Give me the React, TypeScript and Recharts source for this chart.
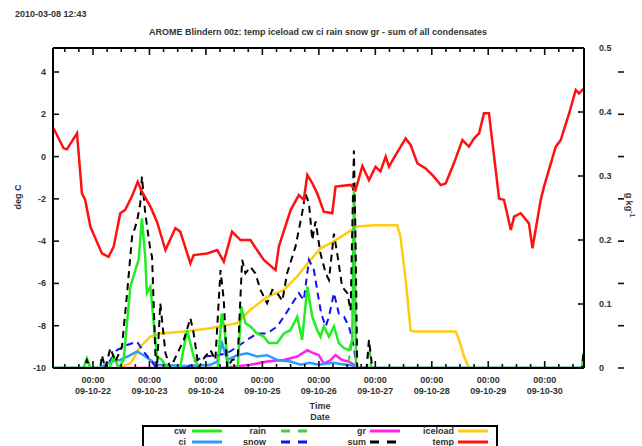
import React from 'react'
import { ComposedChart, Line, XAxis, YAxis, Legend, ReferenceLine } from 'recharts'

const STAMP = '2010-03-08 12:43'
const TITLE = 'AROME Blindern 00z: temp iceload cw ci rain snow gr - sum of all condensates'
const DAYS = ['09-10-22', '09-10-23', '09-10-24', '09-10-25', '09-10-26', '09-10-27', '09-10-28', '09-10-29', '09-10-30']
const HOUR_TICKS = [-12, -6, 0, 6, 12, 18, 24, 30, 36, 42, 48, 54, 60, 66, 72, 78, 84, 90, 96, 102, 108, 114, 120, 126, 132, 138, 144, 150, 156, 162, 168, 174, 180, 186, 192, 198, 204]
const TEMP_TICKS = [-10, -8, -6, -4, -2, 0, 2, 4]
const COND_TICKS = [0, 0.1, 0.2, 0.3, 0.4, 0.5]
const TEMP_TOP = 5.135

// [hour since 09-10-22 00:00, value]
const temp: [number, number][] = [[-16.8,1.34],[-12.5,0.39],[-11.1,0.34],[-6.8,1.1],[-4.7,-1.74],[-3.3,-2.05],[-1.1,-3.32],[3.8,-4.58],[6.6,-4.74],[8.8,-4.26],[11.6,-2.68],[13.7,-2.52],[16.6,-1.87],[19,-1.19],[20.8,-1.66],[24.4,-2.37],[27.2,-3.08],[30.8,-4.42],[35,-3.39],[37.1,-3.55],[41.4,-5.05],[42.8,-4.66],[48.5,-4.58],[52.8,-4.42],[55.6,-4.97],[59.1,-3.55],[62.7,-3.95],[66.9,-3.95],[72.6,-4.89],[77.6,-5.37],[79,-4.26],[84,-2.53],[87.5,-1.82],[89.6,-2.05],[91.1,-0.87],[93.2,-1.26],[95.3,-1.74],[98.1,-2.61],[101.7,-2.68],[103.1,-1.42],[109.5,-1.34],[111.6,-1.58],[114.5,-0.45],[117.3,-1.11],[120.1,-0.48],[122.2,-0.7],[124.4,0.0],[125.8,-0.48],[128.6,0.07],[132.9,0.86],[135,0.55],[137.9,-0.32],[141.4,-0.56],[144.9,-0.95],[147.8,-1.35],[149.9,-1.27],[153.4,-0.32],[157,0.78],[159.8,0.47],[162,0.86],[164.1,1.1],[166.2,2.05],[168.3,2.05],[170.5,0.0],[172.6,-1.98],[174.7,-2.05],[177.6,-3.47],[179,-2.84],[181.8,-2.68],[185.3,-3.16],[186.8,-4.34],[190.3,-2.05],[191.7,-1.42],[196.7,0.47],[198.8,0.78],[202.4,2.05],[205.2,3.15],[206.6,2.99],[208.7,3.23]]

const iceload: [number, number][] = [[10.2,0],[15.9,0.007],[20.1,0.033],[24.4,0.049],[28.6,0.054],[38.6,0.057],[49.9,0.062],[61.3,0.07],[66.9,0.091],[74,0.111],[81.1,0.122],[86.8,0.143],[92.5,0.169],[96.7,0.187],[101,0.195],[106.7,0.208],[112.3,0.221],[119.4,0.223],[129.3,0.223],[130.7,0.205],[132.9,0.1375],[135,0.059],[136.4,0.057],[154.2,0.057],[155.6,0.044],[157.7,0.018],[159.8,0]]

const cw: [number, number][] = [[-17,0],[-4,0],[-2.6,0.015],[-1.1,0],[7,0],[8.8,0.018],[10.9,0],[13,0.0125],[15.9,0.127],[18,0.153],[19.4,0.169],[20.8,0.234],[22.2,0.174],[22.9,0.117],[24.4,0.127],[25.8,0.07],[27.2,0.018],[29.3,0.0125],[31.5,0],[37,0],[40,0.059],[42.8,0.018],[45,0],[53,0],[54.7,0.085],[56.1,0.054],[57.5,0],[61.5,0],[63,0.096],[64.8,0.07],[66.9,0.065],[69.7,0.054],[72.6,0.049],[74.7,0.039],[78.3,0.039],[81.1,0.054],[83.9,0.059],[86.8,0.08],[88.9,0.044],[91.1,0.127],[93.2,0.08],[95.3,0.059],[96.7,0.049],[98.1,0.065],[100.3,0.049],[102.4,0.065],[104.5,0.039],[106.7,0.031],[108.8,0.028],[110.2,0.044],[110.9,0.28],[111.8,0],[207.8,0],[208.7,0.025]]

const rain: [number, number][] = [[-17,0],[108,0],[110.2,0.04],[111.2,0.27],[112,0],[116.5,0],[117.3,0.04],[118.2,0],[208.7,0]]

const ci: [number, number][] = [[-17,0],[3,0],[7.4,0.01],[11.6,0.0125],[15.9,0.02],[18.7,0.026],[21.5,0.02],[24.4,0.0125],[27,0.005],[40,0.003],[50,0.005],[52.8,0.01],[54.9,0.039],[57,0.0125],[61.3,0.02],[65.5,0.023],[69.7,0.018],[74,0.02],[78.3,0.0125],[83.9,0.01],[88.2,0.005],[92,0.008],[96,0.005],[102,0.008],[106,0.006],[110,0.004],[112,0],[208.7,0]]

const snow: [number, number][] = [[-17,0],[5,0],[7.4,0.0125],[10.2,0.028],[14.5,0.036],[18.7,0.041],[21.5,0.026],[24.4,0.0125],[27,0],[40,0],[42.8,0.01],[47.1,0.018],[52.8,0.02],[57,0.023],[61.3,0.033],[65.5,0.044],[69.7,0.054],[74,0.054],[78.3,0.065],[81.1,0.08],[83.9,0.096],[87.5,0.117],[89.6,0.106],[91.8,0.169],[93.9,0.153],[95.5,0.117],[97,0.085],[98.9,0.065],[100.3,0.08],[102.4,0.117],[104.5,0.085],[106.7,0.08],[108.8,0.065],[110.9,0.033],[112,0],[208.7,0]]

const gr: [number, number][] = [[-17,0],[55,0],[66.9,0.005],[74,0.01],[81.1,0.0125],[86.8,0.018],[91.1,0.028],[93.9,0.023],[96,0.02],[98.1,0.007],[101,0.0125],[103.1,0.02],[105.9,0.0125],[108.8,0.01],[110.9,0.005],[112,0],[208.7,0]]

const sum: [number, number][] = [[-17,0],[-4,0],[-2.6,0.0125],[-1.1,0],[3.1,0],[3.8,0.02],[5.2,0],[7.4,0.031],[9.5,0.01],[12.3,0.033],[14.5,0.117],[16.6,0.205],[18.7,0.229],[20.1,0.257],[20.8,0.299],[22.2,0.242],[24.4,0.184],[25.1,0.174],[26.5,0.023],[27.2,0],[28.6,0.101],[30.8,0.023],[32.9,0],[38.6,0.044],[41.4,0.078],[42.8,0.054],[44.9,0],[47.1,0.015],[49.9,0.028],[52,0.0125],[54.2,0.153],[55.6,0.106],[57,0],[59.1,0.0125],[61.5,0.015],[63.4,0.169],[64.8,0.148],[66.9,0.158],[69,0.148],[71.2,0.122],[74,0.101],[76.2,0.122],[78.3,0.117],[80.5,0.105],[82.5,0.148],[86.1,0.19],[88.9,0.242],[90.3,0.273],[91.8,0.257],[93.2,0.2],[94.6,0.229],[96.7,0.179],[98.9,0.148],[100.3,0.1375],[102.4,0.21],[103.8,0.179],[105.9,0.127],[108.1,0.117],[109.5,0.09],[110.9,0.34],[111.6,0.2],[112.3,0],[116.3,0],[117.3,0.044],[118.7,0],[207.8,0],[208.7,0.03]]

const rows = (pts: [number, number][]) => pts.map(([h, v]) => ({ h, v }))

const LEGEND = [
  { name: 'cw', color: '#22ee22', dash: false, col: 0, row: 0 },
  { name: 'ci', color: '#3399ff', dash: false, col: 0, row: 1 },
  { name: 'rain', color: '#44cc44', dash: true, col: 1, row: 0 },
  { name: 'snow', color: '#1111ee', dash: true, col: 1, row: 1 },
  { name: 'gr', color: '#ff22ee', dash: false, col: 2, row: 0 },
  { name: 'sum', color: '#000000', dash: true, col: 2, row: 1 },
  { name: 'iceload', color: '#ffcc11', dash: false, col: 3, row: 0 },
  { name: 'temp', color: '#ff1111', dash: false, col: 3, row: 1 },
]

const font = '"Liberation Sans", Arial, sans-serif'
const txt = { fontFamily: font, fontSize: 9, fontWeight: 700, fill: '#333' }

// tick marks drawn as small filled rectangles pointing into the plot
function mark(x: number, y: number, dx: number, dy: number) {
  const w = dx === 0 ? 1.6 : Math.abs(dx)
  const h = dy === 0 ? 1.6 : Math.abs(dy)
  const rx = dx === 0 ? x - 0.8 : Math.min(x, x + dx)
  const ry = dy === 0 ? y - 0.8 : Math.min(y, y + dy)
  return <rect x={rx} y={ry} width={w} height={h} fill="#111" />
}

function BottomTick(props: any) {
  const { x, y, payload } = props
  const h = payload.value
  const major = h % 24 === 0 && h >= 0
  return (
    <g>
      {mark(x, y, 0, major ? -7 : -4)}
      {major && <text x={x} y={y + 15} textAnchor="middle" {...txt}>00:00</text>}
      {major && <text x={x} y={y + 26} textAnchor="middle" {...txt}>{DAYS[h / 24]}</text>}
    </g>
  )
}

function TopTick(props: any) {
  const { x, y, payload } = props
  const major = payload.value % 24 === 0
  return <g>{mark(x, y, 0, major ? 7 : 4)}</g>
}

function LeftTick(props: any) {
  const { x, y, payload } = props
  return (
    <g>
      {mark(x, y, 6, 0)}
      <text x={x - 7} y={y + 3} textAnchor="end" {...txt}>{payload.value}</text>
    </g>
  )
}

function RightTick(props: any) {
  const { x, y, payload } = props
  return (
    <g>
      {mark(x, y, -6, 0)}
      <text x={x + 15} y={y + 3} textAnchor="start" {...txt}>{payload.value}</text>
    </g>
  )
}

function MirrorTick(props: any) {
  const { x, y } = props
  return <g>{mark(x, y, -6, 0)}</g>
}

function LegendBox() {
  const labelRight = [44, 124, 224, 312]
  const lineStart = [50, 139, 228, 316]
  return (
    <svg width={356} height={22} style={{ display: 'block' }}>
      <rect x={1} y={1} width={354} height={40} fill="#fff" stroke="#000" strokeWidth={2} />
      {LEGEND.map(s => {
        const y = s.row === 0 ? 6 : 17
        return (
          <g key={s.name}>
            <text x={labelRight[s.col]} y={y + 3} textAnchor="end" {...txt}>{s.name}</text>
            <path d={`M${lineStart[s.col]},${y}H${lineStart[s.col] + 30}`}
              stroke={s.color} strokeWidth={3} strokeDasharray={s.dash ? '9 8' : undefined} />
          </g>
        )
      })}
    </svg>
  )
}

export default function App() {
  const domain: [number, number] = [-17, 208.7]
  return (
    <div style={{ position: 'fixed', left: 0, top: 0, width: 642, height: 446, background: '#fff', overflow: 'hidden' }}>
      <div style={{ position: 'absolute', left: 15, top: 9, font: `700 9px ${font}`, color: '#333' }}>{STAMP}</div>
      <div style={{ position: 'absolute', left: 0, width: 636, top: 27, textAlign: 'center', font: `700 9px ${font}`, color: '#333' }}>{TITLE}</div>
      <div style={{ position: 'absolute', left: 300, width: 40, top: 401, textAlign: 'center', font: `700 9px ${font}`, color: '#333', lineHeight: '11px' }}>Time<br />Date</div>
      <div style={{ position: 'absolute', left: -7, top: 192, width: 50, textAlign: 'center', transform: 'rotate(-90deg)', font: `700 9px ${font}`, color: '#333' }}>deg C</div>
      <div style={{ position: 'absolute', left: 605, top: 199, width: 50, textAlign: 'center', transform: 'rotate(90deg)', font: `700 9px ${font}`, color: '#333' }}>g kg<sup style={{ fontSize: 7 }}>-1</sup></div>
      <ComposedChart width={642} height={446} margin={{ top: 40, left: 13, right: 12, bottom: 38 }}>
        <XAxis xAxisId="b" dataKey="h" type="number" domain={domain} allowDataOverflow ticks={HOUR_TICKS} interval={0}
          height={40} tickSize={0} tickMargin={0} tick={<BottomTick />} axisLine={{ stroke: '#000', strokeWidth: 2 }} tickLine={false} />
        <XAxis xAxisId="t" orientation="top" dataKey="h" type="number" domain={domain} allowDataOverflow ticks={HOUR_TICKS} interval={0}
          height={8} tickSize={0} tickMargin={0} tick={<TopTick />} axisLine={{ stroke: '#000', strokeWidth: 2 }} tickLine={false} />
        <YAxis yAxisId="T" orientation="left" type="number" domain={[-10, TEMP_TOP]} allowDataOverflow ticks={TEMP_TICKS} interval={0}
          width={40} tickSize={0} tickMargin={0} tick={<LeftTick />} axisLine={{ stroke: '#000', strokeWidth: 2 }} tickLine={false} />
        <YAxis yAxisId="Q" orientation="right" type="number" domain={[0, 0.5]} allowDataOverflow ticks={COND_TICKS} interval={0}
          width={40} tickSize={0} tickMargin={0} tick={<RightTick />} axisLine={{ stroke: '#000', strokeWidth: 2 }} tickLine={false} />
        <YAxis yAxisId="Tm" orientation="right" type="number" domain={[-10, TEMP_TOP]} allowDataOverflow ticks={TEMP_TICKS} interval={0}
          width={6} tickSize={0} tickMargin={0} tick={<MirrorTick />} axisLine={false} tickLine={false} />
        <ReferenceLine xAxisId="b" yAxisId="T" y={TEMP_TOP} stroke="#000" strokeWidth={2} ifOverflow="visible" />
        <Legend layout="horizontal" verticalAlign="middle" align="center" content={<LegendBox />}
          wrapperStyle={{ position: 'absolute', left: 142, top: 425, width: 356, height: 22 }} />
        <Line xAxisId="t" yAxisId="Q" data={rows(iceload)} dataKey="v" name="iceload" stroke="#ffcc11" strokeWidth={2.5} dot={false} isAnimationActive={false} />
        <Line xAxisId="b" yAxisId="Q" data={rows(gr)} dataKey="v" name="gr" stroke="#ff22ee" strokeWidth={2.5} dot={false} isAnimationActive={false} />
        <Line xAxisId="b" yAxisId="Q" data={rows(ci)} dataKey="v" name="ci" stroke="#3399ff" strokeWidth={2.5} dot={false} isAnimationActive={false} />
        <Line xAxisId="b" yAxisId="Q" data={rows(snow)} dataKey="v" name="snow" stroke="#1111ee" strokeWidth={2} strokeDasharray="7 5" dot={false} isAnimationActive={false} />
        <Line xAxisId="b" yAxisId="Q" data={rows(cw)} dataKey="v" name="cw" stroke="#22ee22" strokeWidth={2.5} dot={false} isAnimationActive={false} />
        <Line xAxisId="b" yAxisId="Q" data={rows(rain)} dataKey="v" name="rain" stroke="#44cc44" strokeWidth={2} strokeDasharray="7 5" dot={false} isAnimationActive={false} />
        <Line xAxisId="b" yAxisId="Q" data={rows(sum)} dataKey="v" name="sum" stroke="#000" strokeWidth={2} strokeDasharray="7 5" dot={false} isAnimationActive={false} />
        <Line xAxisId="b" yAxisId="T" data={rows(temp)} dataKey="v" name="temp" stroke="#ff1111" strokeWidth={2.5} dot={false} isAnimationActive={false} />
      </ComposedChart>
    </div>
  )
}
